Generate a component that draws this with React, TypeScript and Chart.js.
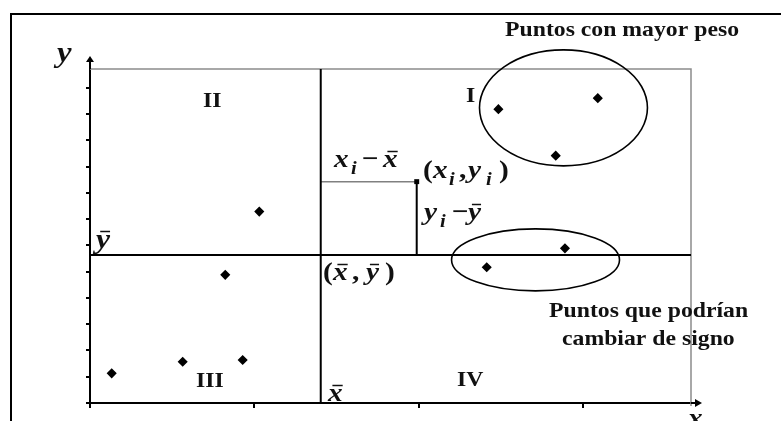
import React, { useEffect, useRef } from 'react';
import { Chart, registerables } from 'chart.js';

Chart.register(...registerables);

// ---- data ----
const pointX = [1.03, 0.823, 0.132, 0.564, 0.929, 2.485, 3.09, 2.834, 2.89, 2.414];
const pointY = [7.29, 4.88, 1.13, 1.57, 1.64, 11.19, 11.61, 9.42, 5.89, 5.17];
const meanX = 1.404;
const meanY = 5.64;
const sampleX = 1.988;
const sampleY = 8.43;
const xMin = 0;
const xMax = 3.657;
const yMin = 0;
const yMax = 12.72;
const ellipseCenterX = [2.881, 2.711];
const ellipseCenterY = [11.24, 5.45];
const ellipseRadiusX = [0.511, 0.511];
const ellipseRadiusY = [2.21, 1.18];

const SERIF = '"Liberation Serif", "Times New Roman", serif';
const SX = 1.13;
const INK = '#111111';

type Seg = { t: string; it?: boolean; sub?: boolean; bar?: boolean; at?: number };

function rich(ctx: CanvasRenderingContext2D, segs: Seg[], x: number, y: number, size: number) {
  let cx = x;
  for (const s of segs) {
    if (s.at !== undefined) cx = s.at;
    const fs = s.sub ? size * 0.7 : size;
    ctx.font = `${s.it ? 'italic ' : ''}bold ${fs}px ${SERIF}`;
    const w = ctx.measureText(s.t).width * SX;
    const dy = s.sub ? size * 0.26 : 0;
    ctx.save();
    ctx.translate(cx, y + dy);
    ctx.scale(SX, 1);
    ctx.fillText(s.t, 0, 0);
    ctx.restore();
    if (s.bar) {
      const by = Math.round(y - size * 0.62) + 0.5;
      ctx.save();
      ctx.strokeStyle = INK;
      ctx.lineWidth = 1.5;
      ctx.beginPath();
      ctx.moveTo(cx + w * 0.3, by);
      ctx.lineTo(cx + w * 1.0, by);
      ctx.stroke();
      ctx.restore();
    }
    cx += w;
  }
}

function plain(ctx: CanvasRenderingContext2D, t: string, x: number, y: number, size: number) {
  rich(ctx, [{ t }], x, y, size);
}

const decor = {
  id: 'decor',
  beforeDatasetsDraw(chart: any) {
    const ctx = chart.ctx as CanvasRenderingContext2D;
    const a = chart.chartArea;
    ctx.save();
    ctx.strokeStyle = '#000';
    ctx.lineWidth = 2;
    ctx.beginPath();
    ctx.moveTo(11, 421);
    ctx.lineTo(11, 14);
    ctx.lineTo(781, 14);
    ctx.stroke();
    ctx.strokeStyle = '#8c8c8c';
    ctx.lineWidth = 1.5;
    ctx.beginPath();
    ctx.moveTo(a.left, a.top);
    ctx.lineTo(a.right, a.top);
    ctx.lineTo(a.right, a.bottom + 3);
    ctx.stroke();
    ctx.restore();
  },
  afterDatasetsDraw(chart: any) {
    const ctx = chart.ctx as CanvasRenderingContext2D;
    const a = chart.chartArea;
    const xs = chart.scales.x;
    const ys = chart.scales.y;
    ctx.save();
    ctx.strokeStyle = '#000';
    ctx.lineWidth = 1.6;
    for (let i = 0; i < ellipseCenterX.length; i++) {
      const cx = xs.getPixelForValue(ellipseCenterX[i]);
      const cy = ys.getPixelForValue(ellipseCenterY[i]);
      const rx = Math.abs(xs.getPixelForValue(ellipseCenterX[i] + ellipseRadiusX[i]) - cx);
      const ry = Math.abs(ys.getPixelForValue(ellipseCenterY[i] + ellipseRadiusY[i]) - cy);
      ctx.beginPath();
      ctx.ellipse(cx, cy, rx, ry, 0, 0, Math.PI * 2);
      ctx.stroke();
    }
    ctx.strokeStyle = '#000';
    ctx.fillStyle = '#000';
    ctx.lineWidth = 2;
    ctx.beginPath();
    ctx.moveTo(a.left, a.top);
    ctx.lineTo(a.left, a.top - 9);
    ctx.moveTo(a.right, a.bottom);
    ctx.lineTo(a.right + 6, a.bottom);
    ctx.stroke();
    ctx.beginPath();
    ctx.moveTo(a.left, a.top - 13);
    ctx.lineTo(a.left - 4, a.top - 7);
    ctx.lineTo(a.left + 4, a.top - 7);
    ctx.closePath();
    ctx.fill();
    ctx.beginPath();
    ctx.moveTo(a.right + 11, a.bottom);
    ctx.lineTo(a.right + 4, a.bottom - 4);
    ctx.lineTo(a.right + 4, a.bottom + 4);
    ctx.closePath();
    ctx.fill();

    ctx.fillStyle = INK;
    ctx.textBaseline = 'alphabetic';
    ctx.textAlign = 'left';
    plain(ctx, 'Puntos con mayor peso', 505, 36, 21);
    plain(ctx, 'Puntos que podrían', 549, 317, 21);
    plain(ctx, 'cambiar de signo', 562, 345, 21);
    plain(ctx, 'I', 466, 102, 21);
    plain(ctx, 'II', 203, 107, 21);
    plain(ctx, 'III', 196, 387, 21);
    plain(ctx, 'IV', 457, 386, 21);

    const M = 26;
    rich(ctx, [{ t: 'y', it: true }], 57, 62, 29);
    rich(ctx, [{ t: 'x', it: true }], 688, 426, M);
    rich(ctx, [{ t: 'y', it: true, bar: true }], 96, 248, 28);
    rich(ctx, [{ t: 'x', it: true, bar: true }], 328, 401, M);
    rich(
      ctx,
      [
        { t: '(', at: 323 },
        { t: 'x', it: true, bar: true, at: 333 },
        { t: ',', at: 352 },
        { t: 'y', it: true, bar: true, at: 366 },
        { t: ')', at: 385 },
      ],
      323,
      280,
      M
    );
    rich(
      ctx,
      [
        { t: 'x', it: true, at: 334 },
        { t: 'i', it: true, sub: true, at: 351 },
        { t: '−', at: 362 },
        { t: 'x', it: true, bar: true, at: 383 },
      ],
      334,
      167,
      M
    );
    rich(
      ctx,
      [
        { t: '(', at: 423 },
        { t: 'x', it: true, at: 433 },
        { t: 'i', it: true, sub: true, at: 449 },
        { t: ',', at: 459 },
        { t: 'y', it: true, at: 468 },
        { t: 'i', it: true, sub: true, at: 486 },
        { t: ')', at: 499 },
      ],
      423,
      178,
      M
    );
    rich(
      ctx,
      [
        { t: 'y', it: true, at: 424 },
        { t: 'i', it: true, sub: true, at: 440 },
        { t: '−', at: 452 },
        { t: 'y', it: true, bar: true, at: 468 },
      ],
      424,
      220,
      M
    );
    ctx.restore();
  },
};

export default function App() {
  const ref = useRef<HTMLCanvasElement | null>(null);

  useEffect(() => {
    if (!ref.current) return;
    const pts = pointX.map((x, i) => ({ x, y: pointY[i] }));
    const chart = new Chart(ref.current, {
      type: 'scatter',
      data: {
        datasets: [
          {
            label: 'sample',
            data: [{ x: sampleX, y: sampleY }],
            pointStyle: 'rect',
            pointRadius: 3.5,
            backgroundColor: '#000',
            borderColor: '#000',
            borderWidth: 0,
          },
          {
            label: 'points',
            data: pts,
            pointStyle: 'rectRot',
            pointRadius: 4,
            backgroundColor: '#000',
            borderColor: '#000',
            borderWidth: 1.5,
          },
          {
            label: 'mean x',
            data: [
              { x: meanX, y: yMin },
              { x: meanX, y: yMax },
            ],
            showLine: true,
            borderColor: '#000',
            borderWidth: 2,
            pointRadius: 0,
          },
          {
            label: 'mean y',
            data: [
              { x: xMin, y: meanY },
              { x: xMax, y: meanY },
            ],
            showLine: true,
            borderColor: '#000',
            borderWidth: 2,
            pointRadius: 0,
          },
          {
            label: 'dx',
            data: [
              { x: meanX, y: sampleY },
              { x: sampleX, y: sampleY },
            ],
            showLine: true,
            borderColor: '#808080',
            borderWidth: 1.5,
            pointRadius: 0,
          },
          {
            label: 'dy',
            data: [
              { x: sampleX, y: sampleY },
              { x: sampleX, y: meanY },
            ],
            showLine: true,
            borderColor: '#000',
            borderWidth: 2,
            pointRadius: 0,
          },
        ],
      },
      options: {
        animation: false,
        responsive: false,
        maintainAspectRatio: false,
        events: [],
        layout: { padding: { left: 86, right: 90, top: 69, bottom: 13 } },
        plugins: { legend: { display: false }, tooltip: { enabled: false } },
        scales: {
          x: {
            type: 'linear',
            position: 'bottom',
            min: xMin,
            max: xMax,
            ticks: { display: false, stepSize: 1, includeBounds: false },
            grid: { drawOnChartArea: false, drawTicks: true, tickLength: 5, color: '#000', lineWidth: 2 },
            border: { display: true, color: '#000', width: 2 },
          },
          y: {
            type: 'linear',
            position: 'left',
            min: yMin,
            max: yMax,
            ticks: { display: false, stepSize: 1, includeBounds: false },
            grid: { drawOnChartArea: false, drawTicks: true, tickLength: 4, color: '#000', lineWidth: 2 },
            border: { display: true, color: '#000', width: 2 },
          },
        },
      },
      plugins: [decor],
    } as any);
    return () => chart.destroy();
  }, []);

  return (
    <div style={{ position: 'absolute', left: 0, top: 0, width: 781, height: 421, background: '#fff' }}>
      <canvas ref={ref} width={781} height={421} style={{ width: 781, height: 421, display: 'block' }} />
    </div>
  );
}
